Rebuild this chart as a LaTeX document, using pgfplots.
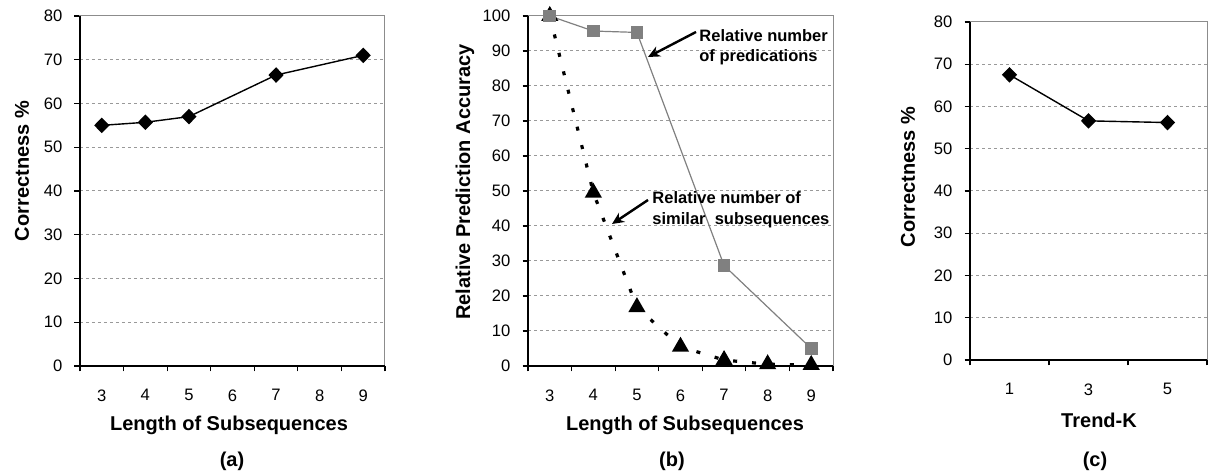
\documentclass[border=0pt]{standalone}
\usepackage{fontspec}
\setmainfont{Liberation Sans}
\usepackage{pgfplots}
\pgfplotsset{compat=1.18}
\usetikzlibrary{arrows.meta}

\definecolor{gridgray}{HTML}{999999}
\definecolor{framegray}{HTML}{8C8C8C}
\definecolor{sqgray}{HTML}{808080}

% 1 px of the reference = 0.5pt
\pgfplotsset{
  excelpanel/.style={
    scale only axis,
    clip=false,
    axis line style={framegray, line width=0.5pt},
    ymin=0,
    tick align=outside,
    xtick pos=bottom, ytick pos=left,
    major tick length=2.75pt, minor tick length=2.75pt,
    tick style={black, line width=0.6pt},
    major x tick style={draw=none},
    ymajorgrids,
    grid style={gridgray, line width=0.5pt, dash pattern=on 1.6pt off 1.4pt},
    ticklabel style={font=\fontsize{8.3}{9}\selectfont},
    yticklabel style={xshift=-2.5pt},
    xticklabel style={yshift=-5.5pt},
    /pgf/number format/assume math mode=true,
  },
}
\newcommand{\blackaxes}{\draw[black, line width=0.8pt] (rel axis cs:0,1) -- (rel axis cs:0,0) -- (rel axis cs:1,0);}

\begin{document}
\begin{tikzpicture}
\path[use as bounding box] (0,0) rectangle (604pt,237pt);

% (a)
\begin{axis}[excelpanel,
  at={(40pt,54pt)}, anchor=south west,
  width=152.5pt, height=175pt,
  xmin=2.5, xmax=9.5, ymax=80,
  xtick={3,4,5,6,7,8,9},
  minor xtick={2.5,3.5,...,9.5},
  ytick={0,10,...,80},
]
\blackaxes
\addplot[black, line width=0.7pt, mark=diamond*, mark size=3.4pt, mark options={xscale=1.3}]
  coordinates {(3,55) (4,55.7) (5,57) (7,66.5) (9,71)};
\end{axis}

% (b)
\begin{axis}[excelpanel,
  at={(264pt,54pt)}, anchor=south west,
  width=152.5pt, height=175pt,
  xmin=2.5, xmax=9.5, ymax=100,
  xtick={3,4,5,6,7,8,9},
  minor xtick={2.5,3.5,...,9.5},
  ytick={0,10,...,100},
]
\blackaxes
\addplot[black, line width=1.6pt, dash pattern=on 2pt off 7.5pt, mark=triangle*, mark size=3.4pt, mark options={solid}]
  coordinates {(3,100) (4,49.5) (5,16.8) (6,5.5) (7,1.7) (8,0.5) (9,0.3)};
\addplot[sqgray, line width=0.6pt, mark=square*, mark size=2.9pt, mark options={fill=sqgray}]
  coordinates {(3,100) (4,95.7) (5,95.3) (7,28.7) (9,5.0)};
\end{axis}

% (c)
\begin{axis}[excelpanel,
  at={(485pt,57pt)}, anchor=south west,
  width=118.5pt, height=169pt,
  xmin=-0.5, xmax=2.5, ymax=80,
  xtick={0,1,2}, xticklabels={1,3,5},
  minor xtick={-0.5,0.5,1.5,2.5},
  ytick={0,10,...,80},
]
\blackaxes
\addplot[black, line width=0.7pt, mark=diamond*, mark size=3.4pt, mark options={xscale=1.3}]
  coordinates {(0,67.5) (1,56.6) (2,56.2)};
\end{axis}

% texts, in reference pixels
\begin{scope}[shift={(0pt,237pt)}, x=0.5pt, y=-0.5pt,
  lab/.style={font=\fontsize{10}{11}\selectfont\bfseries, inner sep=0pt},
  ann/.style={font=\fontsize{8.25}{10}\selectfont\bfseries, inner sep=0pt, anchor=base west}]
  \node[lab, rotate=90] at (22,171) {Correctness \%};
  \node[lab, anchor=base] at (229,431) {Length of Subsequences};
  \node[lab, anchor=base] at (232,467) {(a)};

  \node[lab, rotate=90] at (465,182) {Relative Prediction Accuracy};
  \node[lab, anchor=base] at (685,431) {Length of Subsequences};
  \node[lab, anchor=base] at (672,467) {(b)};

  \node[lab, rotate=90] at (908,177) {Correctness \%};
  \node[lab, anchor=base] at (1099,428) {Trend-K};
  \node[lab, anchor=base] at (1095,467) {(c)};

  \node[ann] at (699,42) {Relative number};
  \node[ann] at (699,62) {of predications};
  \node[ann] at (652,204) {Relative number of};
  \node[ann] at (652,225) {similar\ \ subsequences};
  \draw[black, line width=1.2pt, -{Stealth[length=6pt, width=5.5pt]}] (696,32) -- (648,57);
  \draw[black, line width=1.2pt, -{Stealth[length=6pt, width=5.5pt]}] (648,200) -- (612,224);
\end{scope}
\end{tikzpicture}
\end{document}
